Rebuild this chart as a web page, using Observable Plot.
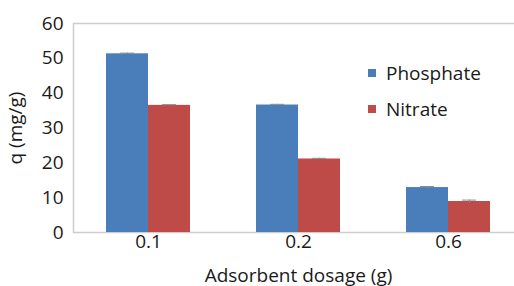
<!DOCTYPE html>
<html>
<head>
<meta charset="utf-8">
<script src="https://cdn.jsdelivr.net/npm/d3@7"></script>
<script src="https://cdn.jsdelivr.net/npm/@observablehq/plot@0.6"></script>
<style>
  html, body { margin: 0; padding: 0; background: white; overflow: hidden; }
  #wrap { position: relative; width: 514px; height: 286px; }
  #legend { position: absolute; left: 368px; top: 55px; font-family: "Open Sans", sans-serif; font-size: 19px; color: #1a1a1a; }
  #legend .row { display: flex; align-items: center; height: 36px; }
  #legend .sw { width: 8px; height: 8px; margin-right: 10px; }
  svg g[aria-label="frame"] line { stroke: #cfcfcf; stroke-width: 1.5; }
</style>
</head>
<body>
<div id="wrap"></div>
<script>
const dosages = ["0.1", "0.2", "0.6"];
const series = ["Phosphate", "Nitrate"];
const colors = ["#4a7ebb", "#be4b48"];
const phosphate = [51.3, 36.6, 12.9];
const nitrate = [36.5, 21.1, 8.9];
const phosphateErr = [0.2, 0.2, 0.3];
const nitrateErr = [0.2, 0.2, 0.4];
const yTicks = [0, 10, 20, 30, 40, 50, 60];

const data = dosages.flatMap((d, i) => [
  {dosage: d, series: "Phosphate", value: phosphate[i], err: phosphateErr[i]},
  {dosage: d, series: "Nitrate", value: nitrate[i], err: nitrateErr[i]}
]);

const chart = Plot.plot({
  width: 514,
  height: 286,
  marginLeft: 72,
  marginRight: -10,
  marginTop: 23,
  marginBottom: 54,
  style: {fontFamily: "'Open Sans', sans-serif", fontSize: "19px", color: "#1a1a1a", background: "white", overflow: "hidden"},
  fx: {domain: dosages, padding: 0, label: "Adsorbent dosage (g)", labelAnchor: "center", labelArrow: false, tickSize: 0, tickPadding: 2, labelOffset: 49},
  x: {domain: series, axis: null, paddingInner: 0, paddingOuter: 0.756},
  y: {domain: [0, 60], ticks: yTicks, tickSize: 0, tickPadding: 10, label: "q (mg/g)", labelAnchor: "center", labelArrow: false, labelOffset: 65, line: true},
  color: {domain: series, range: colors},
  marks: [
    Plot.ruleY([0, 60], {stroke: "#cfcfcf", strokeWidth: 1.5}),
    Plot.barY(data, {fx: "dosage", x: "series", y: "value", fill: "series"}),
    Plot.ruleX(data, {fx: "dosage", x: "series", y1: d => d.value - d.err, y2: d => d.value + d.err, stroke: "#8a8a8a"}),
    Plot.tickY(data, {fx: "dosage", x: "series", y: d => d.value + d.err, stroke: "#8a8a8a", insetLeft: 14, insetRight: 14})
  ]
});
document.getElementById("wrap").appendChild(chart);

const legend = document.createElement("div");
legend.id = "legend";
series.forEach((s, i) => {
  const row = document.createElement("div");
  row.className = "row";
  const sw = document.createElement("span");
  sw.className = "sw";
  sw.style.background = colors[i];
  const t = document.createElement("span");
  t.textContent = s;
  row.appendChild(sw);
  row.appendChild(t);
  legend.appendChild(row);
});
document.getElementById("wrap").appendChild(legend);
</script>
</body>
</html>
